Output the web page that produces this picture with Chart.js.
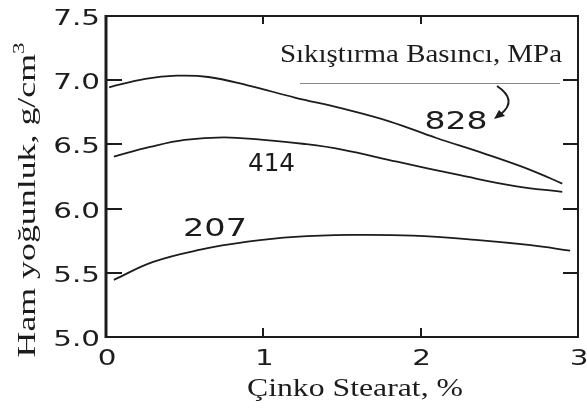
<!DOCTYPE html>
<html>
<head>
<meta charset="utf-8">
<script src="https://cdn.jsdelivr.net/npm/chart.js@4"></script>
<style>
  html, body { margin: 0; padding: 0; background: #fff; }
  #c { display: block; }
</style>
</head>
<body>
<canvas id="c" width="587" height="412"></canvas>
<script>
// Zinc stearate content (%) and green density (g/cm3) for three compaction pressures
const pressures = ['828', '414', '207'];

const x828 = [0.02, 0.25, 0.45, 0.65, 0.9, 1.2, 1.5, 1.8, 2.1, 2.4, 2.7, 2.9];
const y828 = [6.945, 7.01, 7.035, 7.025, 6.96, 6.865, 6.78, 6.68, 6.55, 6.43, 6.30, 6.195];

const x414 = [0.05, 0.28, 0.5, 0.75, 1.0, 1.25, 1.5, 1.85, 2.25, 2.6, 2.9];
const y414 = [6.405, 6.48, 6.535, 6.555, 6.535, 6.505, 6.46, 6.365, 6.26, 6.175, 6.13];

const x207 = [0.05, 0.3, 0.6, 0.9, 1.2, 1.55, 1.95, 2.35, 2.7, 2.95];
const y207 = [5.445, 5.585, 5.68, 5.742, 5.78, 5.795, 5.79, 5.757, 5.715, 5.672];

const xTicks = [0, 1, 2, 3];
const xTickLabels = ['0', '1', '2', '3'];
const yTicks = [5.0, 5.5, 6.0, 6.5, 7.0, 7.5];
const yTickLabels = ['5.0', '5.5', '6.0', '6.5', '7.0', '7.5'];

const xTitle = 'Çinko Stearat, %';
const yTitle = 'Ham yoğunluk, g/cm';
const yTitleSup = '3';
const legendTitle = 'Sıkıştırma Basıncı, MPa';

// Where each pressure number sits, in data units
const curveLabels = [
  { text: pressures[0], x: 2.225, y: 6.69, w: 63 },
  { text: pressures[1], x: 1.052, y: 6.363, w: 47 },
  { text: pressures[2], x: 0.693, y: 5.853, w: 64 }
];

const toPoints = (xs, ys) => xs.map((x, i) => ({ x: x, y: ys[i] }));

const INK = '#1c1c1c';
const DIGIT_FONT = '"DejaVu Sans", sans-serif';
const SERIF_FONT = '"Liberation Serif", "DejaVu Serif", serif';

// Draw text squeezed/stretched horizontally to a given width
function fitText(ctx, text, x, y, targetW, align) {
  const w = ctx.measureText(text).width;
  const s = targetW / w;
  ctx.save();
  ctx.translate(x, y);
  ctx.scale(s, 1);
  ctx.textAlign = 'left';
  let start = 0;
  if (align === 'center') start = -w / 2;
  else if (align === 'right') start = -w;
  ctx.fillText(text, start, 0);
  ctx.restore();
}

function scaledText(ctx, text, x, y, sx, align) {
  ctx.save();
  ctx.translate(x, y);
  ctx.scale(sx, 1);
  ctx.textAlign = align;
  ctx.fillText(text, 0, 0);
  ctx.restore();
}

const framePlugin = {
  id: 'frameAndText',
  afterDatasetsDraw(chart) {
    const ctx = chart.ctx;
    const a = chart.chartArea;
    const xs = chart.scales.x;
    const ys = chart.scales.y;
    ctx.save();
    ctx.strokeStyle = INK;
    ctx.fillStyle = INK;
    ctx.lineCap = 'butt';

    // box
    ctx.lineWidth = 2;
    ctx.strokeRect(a.left, a.top, a.right - a.left, a.bottom - a.top);
    ctx.lineWidth = 3;
    ctx.beginPath();
    ctx.moveTo(a.left, a.top - 1);
    ctx.lineTo(a.left, a.bottom + 1);
    ctx.stroke();

    // inward ticks
    ctx.lineWidth = 2;
    yTicks.forEach(v => {
      if (v === ys.min || v === ys.max) return;
      const py = Math.round(ys.getPixelForValue(v));
      ctx.beginPath();
      ctx.moveTo(a.left, py); ctx.lineTo(a.left + 16, py);
      ctx.moveTo(a.right, py); ctx.lineTo(a.right - 15, py);
      ctx.stroke();
    });
    xTicks.forEach(v => {
      if (v === xs.min || v === xs.max) return;
      const px = Math.round(xs.getPixelForValue(v));
      ctx.beginPath();
      ctx.moveTo(px, a.bottom); ctx.lineTo(px, a.bottom - 9);
      ctx.moveTo(px, a.top); ctx.lineTo(px, a.top + 8);
      ctx.stroke();
    });

    // tick labels
    ctx.font = '21px ' + DIGIT_FONT;
    ctx.textBaseline = 'alphabetic';
    yTicks.forEach((v, i) => {
      const py = ys.getPixelForValue(v);
      scaledText(ctx, yTickLabels[i], a.left - 6, py + 9, 1.4, 'right');
    });
    xTicks.forEach((v, i) => {
      const px = xs.getPixelForValue(v);
      scaledText(ctx, xTickLabels[i], px + 1, a.bottom + 28, 1.4, 'center');
    });

    // pressure numbers on the curves
    ctx.font = '25px ' + DIGIT_FONT;
    curveLabels.forEach(l => {
      const px = xs.getPixelForValue(l.x);
      const py = ys.getPixelForValue(l.y);
      fitText(ctx, l.text, px, py + 9, l.w, 'center');
    });

    // axis titles
    ctx.font = '25px ' + SERIF_FONT;
    fitText(ctx, xTitle, 355, a.bottom + 59, 216, 'center');

    ctx.save();
    ctx.translate(35, 200);
    ctx.rotate(-Math.PI / 2);
    ctx.font = '25px ' + SERIF_FONT;
    const w1 = ctx.measureText(yTitle).width;
    ctx.font = '16px ' + SERIF_FONT;
    const w2 = ctx.measureText(yTitleSup).width;
    const s = 315 / (w1 + w2);
    ctx.scale(s, 1);
    const start = -(w1 + w2) / 2;
    ctx.textAlign = 'left';
    ctx.font = '25px ' + SERIF_FONT;
    ctx.fillText(yTitle, start, 0);
    ctx.font = '16px ' + SERIF_FONT;
    ctx.fillText(yTitleSup, start + w1, -11);
    ctx.restore();

    // legend heading with rule and arrow to the top curve
    ctx.font = '25px ' + SERIF_FONT;
    fitText(ctx, legendTitle, 280, 62, 282, 'left');
    ctx.strokeStyle = '#8a8a8a';
    ctx.lineWidth = 1.2;
    ctx.beginPath();
    ctx.moveTo(300, 83.5); ctx.lineTo(560, 83.5);
    ctx.stroke();

    ctx.strokeStyle = INK;
    ctx.lineWidth = 2;
    ctx.beginPath();
    ctx.moveTo(497, 86);
    ctx.quadraticCurveTo(518, 100, 501, 114);
    ctx.stroke();
    ctx.beginPath();
    ctx.moveTo(494, 119);
    ctx.lineTo(499, 110);
    ctx.lineTo(505, 116);
    ctx.closePath();
    ctx.fill();

    ctx.restore();
  }
};

const lineStyle = {
  borderColor: INK,
  borderWidth: 1.8,
  pointRadius: 0,
  tension: 0.4,
  fill: false
};

new Chart(document.getElementById('c'), {
  type: 'line',
  data: {
    datasets: [
      Object.assign({ label: pressures[0], data: toPoints(x828, y828) }, lineStyle),
      Object.assign({ label: pressures[1], data: toPoints(x414, y414) }, lineStyle),
      Object.assign({ label: pressures[2], data: toPoints(x207, y207) }, lineStyle)
    ]
  },
  options: {
    responsive: false,
    devicePixelRatio: 1,
    animation: false,
    layout: { padding: { left: 106, top: 16, right: 9, bottom: 75 } },
    scales: {
      x: { type: 'linear', min: 0, max: 3, display: false },
      y: { type: 'linear', min: 5, max: 7.5, display: false }
    },
    plugins: {
      legend: { display: false },
      tooltip: { enabled: false }
    }
  },
  plugins: [framePlugin]
});
</script>
</body>
</html>
